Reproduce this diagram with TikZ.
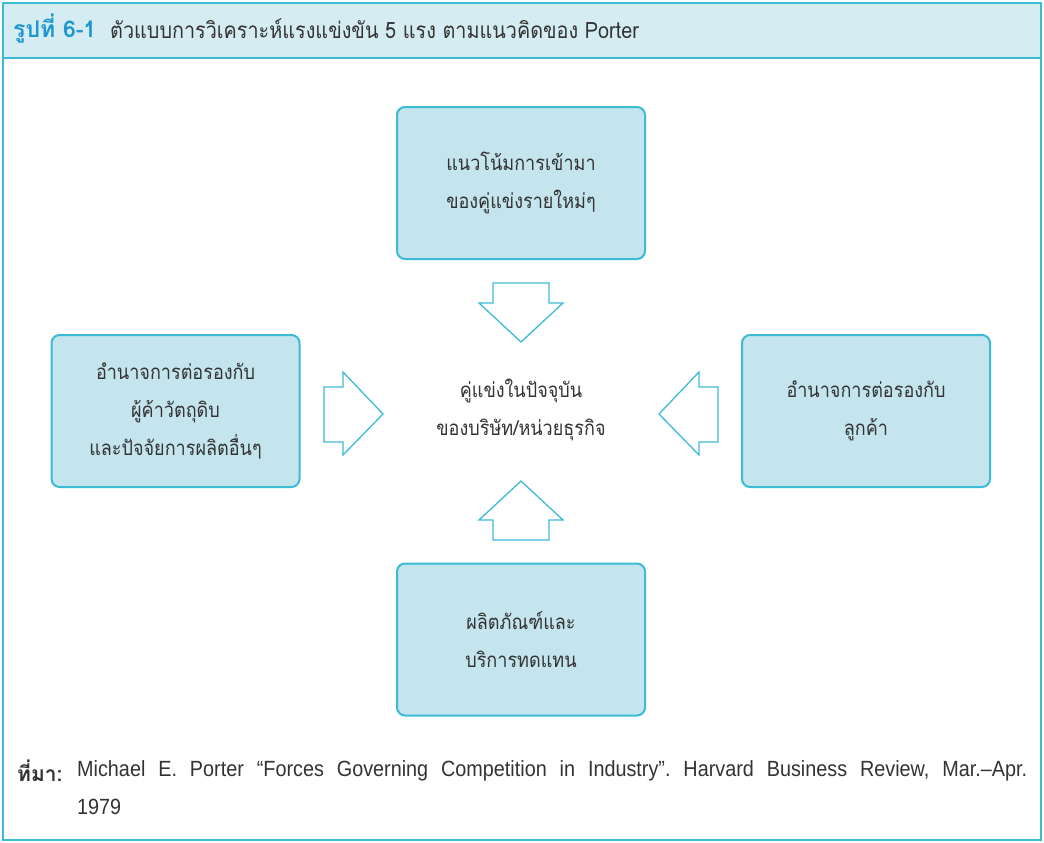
\documentclass[tikz,border=0pt]{standalone}
\usepackage{fontspec}
\setmainfont{Liberation Sans}
\newfontfamily\narrowsans[FakeStretch=0.9]{Liberation Sans}
\newfontfamily\thai[Script=Thai,FakeStretch=0.88]{Loma}
\newfontfamily\thaiwide[Script=Thai]{Loma}
\definecolor{frame}{HTML}{3CBBD6}
\definecolor{headfill}{HTML}{D5ECF3}
\definecolor{boxfill}{HTML}{C4E4EE}
\definecolor{titleblue}{HTML}{1E98CF}
\definecolor{textgray}{HTML}{333333}
\begin{document}
\frenchspacing
\begin{tikzpicture}[x=1pt,y=-1pt,
  forcebox/.style={draw=frame, line width=2pt, fill=boxfill, rounded corners=8pt,
    minimum width=248pt, minimum height=152pt, align=center, text=textgray,
    font=\thai\fontsize{20.5}{38}\selectfont},
  blockarrow/.style={draw=frame, line width=1.3pt, fill=white, line join=miter},
  centertext/.style={align=center, text=textgray, font=\thai\fontsize{20.5}{38}\selectfont}]
\useasboundingbox (0,0) rectangle (1044,843);
% frame and header
\draw[frame, line width=1.5pt, fill=white] (3,3) rectangle (1041,840);
\draw[frame, line width=1.5pt, fill=headfill] (3,3) rectangle (1041,58);
\node[anchor=west, inner sep=0pt, text=titleblue] (titlelabel) at (13,29)
  {\thaiwide\fontsize{23}{26}\selectfont\textbf{รูปที่ 6-1}};
\node[anchor=west, inner sep=0pt, text=textgray] (title) at (110,29)
  {\thai\fontsize{22.5}{26}\selectfont ตัวแบบการวิเคราะห์แรงแข่งขัน 5 แรง ตามแนวคิดของ Porter};
% boxes
\node[forcebox] (top) at (521,183) {แนวโน้มการเข้ามา\\ของคู่แข่งรายใหม่ๆ};
\node[forcebox] (left) at (175.5,411) {อำนาจการต่อรองกับ\\ผู้ค้าวัตถุดิบ\\และปัจจัยการผลิตอื่นๆ};
\node[forcebox] (right) at (866,411) {อำนาจการต่อรองกับ\\ลูกค้า};
\node[forcebox] (bottom) at (521,639.5) {ผลิตภัณฑ์และ\\บริการทดแทน};
\node[centertext] (center) at (521,410) {คู่แข่งในปัจจุบัน\\ของบริษัท/หน่วยธุรกิจ};
% block arrows
\draw[blockarrow] (493,283) -- (549,283) -- (549,303) -- (563,303) -- (521,342) -- (479,303) -- (493,303) -- cycle;
\draw[blockarrow] (493,540) -- (549,540) -- (549,520) -- (563,520) -- (521,481) -- (479,520) -- (493,520) -- cycle;
\draw[blockarrow] (324,387) -- (324,442) -- (343,442) -- (343,455) -- (383,414) -- (343,372) -- (343,387) -- cycle;
\draw[blockarrow] (718,387) -- (718,442) -- (699,442) -- (699,455) -- (659,414) -- (699,372) -- (699,387) -- cycle;
% source
\node[anchor=west, inner sep=0pt, text=textgray] (srclabel) at (17,771)
  {\thaiwide\fontsize{21}{24}\selectfont\textbf{ที่มา:}};
\node[anchor=west, inner sep=0pt, text=textgray] (srctext) at (77,771)
  {\narrowsans\fontsize{22}{24}\selectfont\makebox[950pt][s]{Michael E. Porter “Forces Governing Competition in Industry”. Harvard Business Review, Mar.–Apr.}};
\node[anchor=west, inner sep=0pt, text=textgray] (srcyear) at (77,807)
  {\narrowsans\fontsize{22}{24}\selectfont 1979};
\end{tikzpicture}
\end{document}
